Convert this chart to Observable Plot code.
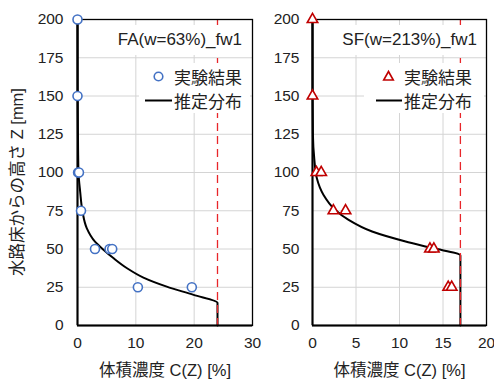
<!DOCTYPE html>
<html><head><meta charset="utf-8">
<script src="https://cdn.jsdelivr.net/npm/d3@7"></script>
<script src="https://cdn.jsdelivr.net/npm/@observablehq/plot@0.6"></script>
<style>
body{margin:0;background:#fff;}
#wrap{position:relative;width:494px;height:380px;overflow:hidden;font-family:"Liberation Sans","Noto Sans CJK JP",sans-serif;color:#222;}
.panel{position:absolute;top:0;}
.box{position:absolute;background:#fff;}
.title{position:absolute;font-size:17px;line-height:30px;text-align:right;white-space:nowrap;}
.leg{position:absolute;font-family:"Noto Sans CJK JP",sans-serif;font-size:17px;line-height:22px;white-space:nowrap;}
.sw{position:absolute;overflow:visible;}
.ylab{position:absolute;left:16.5px;top:182px;transform:translate(-50%,-50%) rotate(-90deg);font-size:16.5px;line-height:20px;white-space:nowrap;}
</style></head>
<body><div id="wrap"></div>
<script>
// ---- data ----
const yTicks = [0, 25, 50, 75, 100, 125, 150, 175, 200];
const faTicksX = [0, 10, 20, 30];
const sfTicksX = [0, 5, 10, 15, 20];
const xLabel = "体積濃度 C(Z) [%]";
const yLabel = "水路床からの高さ Z [mm]";
const faTitle = "FA(w=63%)_fw1";
const sfTitle = "SF(w=213%)_fw1";
const legendExp = "実験結果";
const legendFit = "推定分布";

// FA experiment
const faExpC = [0, 0, 0.1, 0.25, 0.6, 3.0, 5.5, 5.95, 10.35, 19.6];
const faExpZ = [200, 150, 100, 100, 75, 50, 50, 50, 25, 25];
// FA estimated distribution
const faFitC = [0, 0.03, 0.1, 0.18, 0.46, 0.86, 1.6, 3.0, 4.5, 6.2, 8.5, 11.3, 15.3, 19.9, 24, 24];
const faFitZ = [200, 150, 115, 99.4, 87.4, 74.4, 63.5, 54.8, 49.4, 43.9, 37.4, 31.3, 25.4, 20, 14.8, 0];
const faLimit = 24;

// SF experiment
const sfExpC = [0, 0, 0.45, 1.0, 2.4, 3.8, 13.5, 13.95, 15.6, 16.0];
const sfExpZ = [200, 150, 100, 100, 75, 75, 50, 50, 25, 25];
// SF estimated distribution
const sfFitC = [0, 0.01, 0.05, 0.2, 0.5, 1.27, 2.62, 4.15, 6.85, 10.7, 13.8, 17.0, 17.0];
const sfFitZ = [200, 150, 124.4, 109.2, 96.2, 85.3, 75.5, 69, 61.4, 54.9, 50.6, 45.8, 0];
const sfLimit = 17;

function panel(o) {
  const exp = o.expC.map((c, i) => ({c, z: o.expZ[i]}));
  const fit = o.fitC.map((c, i) => ({c, z: o.fitZ[i]}));
  const marks = [
    Plot.gridX(o.xTicks, {stroke: "#d4d4d4", strokeOpacity: 1, strokeWidth: 1}),
    Plot.gridY(yTicks, {stroke: "#d4d4d4", strokeOpacity: 1, strokeWidth: 1}),
    Plot.line(fit, {x: "c", y: "z", stroke: "black", strokeWidth: 2, curve: "monotone-y"}),
    Plot.ruleX([o.limit], {stroke: "#e8262a", strokeWidth: 1.3, strokeDasharray: "8,5"}),
    Plot.frame({stroke: "black", strokeWidth: 1.3}),
    Plot.ruleX([0], {stroke: "black", strokeWidth: 2}),
    Plot.ruleY([0], {stroke: "black", strokeWidth: 2}),
    Plot.dot(exp, {x: "c", y: "z", symbol: o.symbol, r: o.r, stroke: o.color, strokeWidth: 1.6, fill: "white"}),
    Plot.axisX(o.xTicks, {tickSize: 0, tickPadding: 11, label: null, fontSize: 15.5}),
    Plot.axisY(yTicks, {tickSize: 0, tickPadding: o.yPad, label: null, fontSize: 15.5}),
    Plot.text([xLabel], {text: d => d, frameAnchor: "bottom", dy: 45, lineAnchor: "middle", fontSize: 16.5, fill: "#222"})
  ];
  return Plot.plot({
    width: o.width, height: 380,
    marginLeft: o.marginLeft, marginRight: o.marginRight, marginTop: 19, marginBottom: 55,
    style: {fontFamily: '"Liberation Sans","Noto Sans CJK JP",sans-serif', fontSize: "15.5px", color: "#222", background: "transparent", overflow: "visible"},
    x: {domain: [0, o.xMax]},
    y: {domain: [0, 200]},
    marks
  });
}

const wrap = document.getElementById("wrap");

const p1 = panel({expC: faExpC, expZ: faExpZ, fitC: faFitC, fitZ: faFitZ, limit: faLimit, xTicks: faTicksX, xMax: 30,
  symbol: "circle", r: 4.5, color: "#4472C4", width: 262, marginLeft: 77, marginRight: 10, yPad: 14});
p1.classList.add("panel"); p1.style.left = "0px";
wrap.appendChild(p1);

const p2 = panel({expC: sfExpC, expZ: sfExpZ, fitC: sfFitC, fitZ: sfFitZ, limit: sfLimit, xTicks: sfTicksX, xMax: 20,
  symbol: "triangle", r: 3.9, color: "#C00000", width: 232, marginLeft: 50, marginRight: 8, yPad: 13});
p2.classList.add("panel"); p2.style.left = "262px";
wrap.appendChild(p2);

const yl = document.createElement("div");
yl.className = "ylab"; yl.textContent = yLabel;
wrap.appendChild(yl);

function addOverlay(cfg) {
  const t = document.createElement("div");
  t.className = "box title";
  Object.assign(t.style, {left: cfg.tx + "px", top: "25px", width: cfg.tw + "px", height: "30px"});
  t.innerHTML = `<span style="position:absolute;right:${cfg.tr}px;top:0">${cfg.title}</span>`;
  wrap.appendChild(t);
  const b = document.createElement("div");
  b.className = "box";
  Object.assign(b.style, {left: cfg.bx + "px", top: "63px", width: cfg.bw + "px", height: "50px"});
  wrap.appendChild(b);
  const l1 = document.createElement("div");
  l1.className = "leg"; l1.textContent = legendExp;
  Object.assign(l1.style, {left: cfg.textX + "px", top: "66px"});
  wrap.appendChild(l1);
  const l2 = document.createElement("div");
  l2.className = "leg"; l2.textContent = legendFit;
  Object.assign(l2.style, {left: cfg.textX + "px", top: "90px"});
  wrap.appendChild(l2);
  const ns = "http://www.w3.org/2000/svg";
  const sw = document.createElementNS(ns, "svg");
  sw.setAttribute("class", "sw");
  sw.setAttribute("width", 494); sw.setAttribute("height", 380);
  sw.style.left = "0px"; sw.style.top = "0px"; sw.style.pointerEvents = "none";
  sw.innerHTML = cfg.marker +
    `<line x1="${cfg.lineX1}" x2="${cfg.lineX2}" y1="100.5" y2="100.5" stroke="black" stroke-width="2"/>`;
  wrap.appendChild(sw);
}

addOverlay({tx: 112, tw: 138, tr: 8, title: faTitle, bx: 139, bw: 111, textX: 174,
  marker: `<circle cx="158.5" cy="76.5" r="4.3" fill="white" stroke="#4472C4" stroke-width="1.6"/>`,
  lineX1: 145, lineX2: 172});
addOverlay({tx: 336, tw: 148, tr: 7, title: sfTitle, bx: 364, bw: 120, textX: 404,
  marker: `<path d="M388.5,71.5 L393.3,80 L383.7,80 Z" fill="white" stroke="#C00000" stroke-width="1.6"/>`,
  lineX1: 376, lineX2: 402});
</script>
</body></html>
